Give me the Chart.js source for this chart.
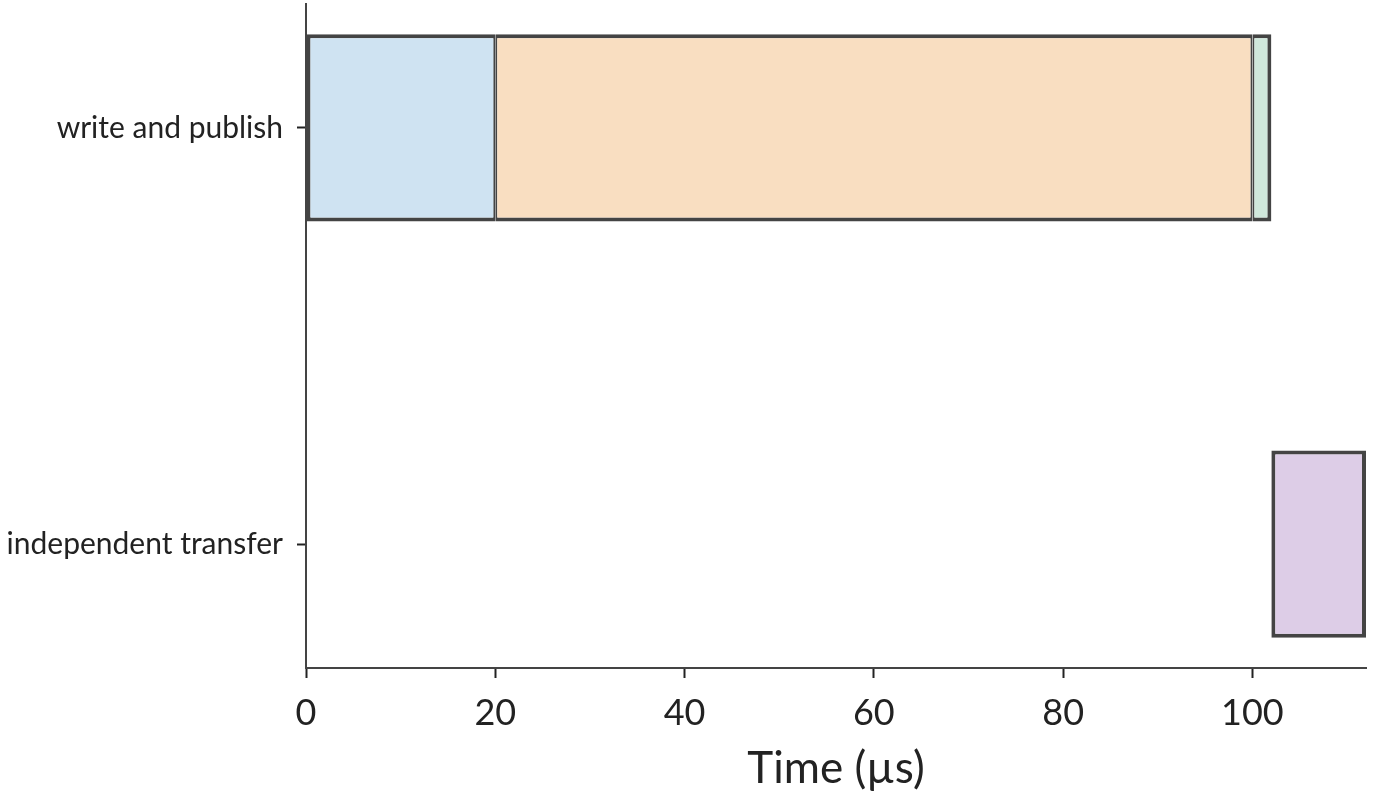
<!DOCTYPE html>
<html>
<head>
<meta charset="utf-8">
<script src="https://cdn.jsdelivr.net/npm/chart.js@4.4.1/dist/chart.umd.min.js"></script>
<style>
  html, body { margin: 0; padding: 0; background: #ffffff; }
  #wrap { width: 1400px; height: 796px; position: relative; }
</style>
</head>
<body>
<div id="wrap"><canvas id="c"></canvas></div>
<script>
// ---- data ----
const categories = ['write and publish', 'independent transfer'];
const segmentRow   = [0, 0, 0, 1];          // which category each segment belongs to
const segmentStart = [0, 20, 100, 102];     // µs
const segmentEnd   = [20, 100, 102, 112];   // µs
const segmentColors = ['#cfe3f2', '#f9dec1', '#d0e8dc', '#ddcde7'];
const xTicks = [0, 20, 40, 60, 80, 100];
const xMax = 112;
const yLimits = [-0.2975, 1.2975];

const edge = '#444444';
const edgeW = 4;
const fontFamily = 'Lato, "Open Sans", sans-serif';

// adjacent segments in the same row share a single (split) edge line
const datasets = segmentStart.map((s, i) => {
  const hasPrev = segmentStart.some((_, j) => j !== i && segmentRow[j] === segmentRow[i] && segmentEnd[j] === s);
  const hasNext = segmentStart.some((_, j) => j !== i && segmentRow[j] === segmentRow[i] && segmentStart[j] === segmentEnd[i]);
  return {
    label: 'segment ' + (i + 1),
    data: [{ x: [s, segmentEnd[i]], y: segmentRow[i] }],
    backgroundColor: segmentColors[i],
    borderColor: edge,
    borderWidth: { top: edgeW, bottom: edgeW, left: hasPrev ? edgeW / 2 : edgeW, right: hasNext ? edgeW / 2 : edgeW },
    borderSkipped: false,
    inflateAmount: 0,
    grouped: false,
    categoryPercentage: 0.9,
    barPercentage: 0.5
  };
});

function noPad(scale) {
  scale.paddingTop = 0; scale.paddingBottom = 0;
  scale.paddingLeft = 0; scale.paddingRight = 0;
}

new Chart(document.getElementById('c'), {
  type: 'bar',
  data: { datasets },
  options: {
    indexAxis: 'y',
    responsive: true,
    maintainAspectRatio: false,
    animation: false,
    layout: { padding: { top: 4, right: 34, left: 0, bottom: 0 } },
    plugins: { legend: { display: false }, tooltip: { enabled: false } },
    scales: {
      y: {
        type: 'linear',
        reverse: true,
        offset: false,
        min: yLimits[0],
        max: yLimits[1],
        afterBuildTicks: (scale) => { scale.ticks = categories.map((c, i) => ({ value: i })); },
        afterFit: (scale) => { scale.width = 306; noPad(scale); },
        grid: { display: true, offset: false, drawOnChartArea: false, drawTicks: true, tickLength: 9, tickWidth: 2, tickColor: '#222' },
        border: { display: true, color: edge, width: 2 },
        ticks: {
          callback: (v) => categories[v],
          color: '#222',
          padding: 14,
          font: { family: fontFamily, size: 30 }
        }
      },
      x: {
        type: 'linear',
        min: 0,
        max: xMax,
        afterBuildTicks: (scale) => { scale.ticks = xTicks.map(v => ({ value: v })); },
        afterFit: (scale) => { scale.height = 128; noPad(scale); },
        grid: { display: true, drawOnChartArea: false, drawTicks: true, tickLength: 10, tickWidth: 2, tickColor: '#222' },
        border: { display: true, color: edge, width: 2 },
        ticks: {
          color: '#222',
          padding: 14,
          maxRotation: 0,
          font: { family: fontFamily, size: 36 }
        },
        title: {
          display: true,
          text: 'Time (µs)',
          color: '#222',
          padding: { top: 0, bottom: 1 },
          font: { family: fontFamily, size: 44 }
        }
      }
    }
  }
});
</script>
</body>
</html>
